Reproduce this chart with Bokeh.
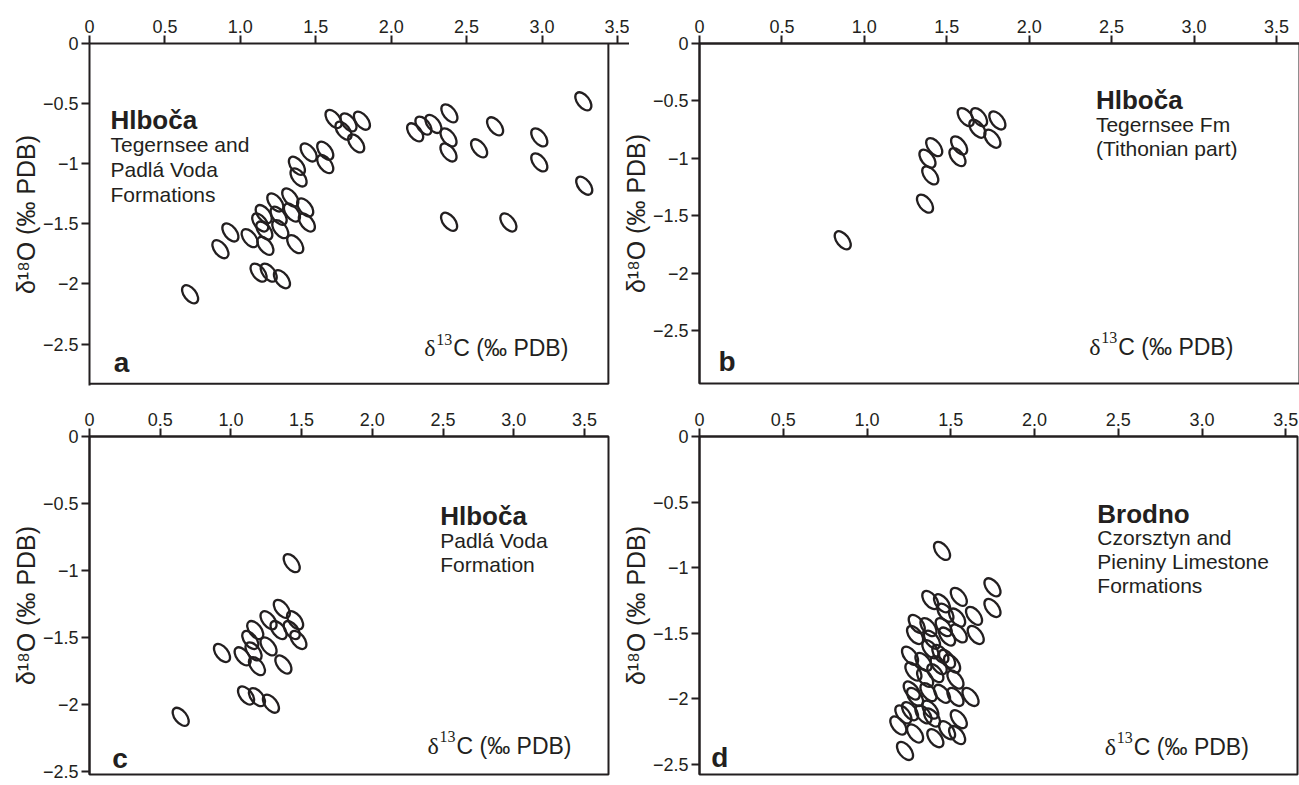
from bokeh.plotting import figure
from bokeh.layouts import column, row
from bokeh.models import FixedTicker, CustomJSTickFormatter, ColumnDataSource
from bokeh.core.properties import value
from bokeh.embed import file_html
from bokeh.resources import INLINE

INK = "#231f20"
SANS = "Liberation Sans"
SERIF = "Liberation Serif"

# ---------------- data (delta13C, delta18O, per mil PDB) ----------------
x_ticks = [0, 0.5, 1.0, 1.5, 2.0, 2.5, 3.0, 3.5]
y_ticks = [0, -0.5, -1.0, -1.5, -2.0, -2.5]

a_c13 = [0.667, 0.868, 0.934, 1.062, 1.121, 1.188, 1.276, 1.166, 1.132, 1.159,
         1.155, 1.232, 1.254, 1.265, 1.331, 1.342, 1.430, 1.441, 1.364, 1.386,
         1.375, 1.453, 1.563, 1.563, 1.618, 1.684, 1.717, 1.806, 1.768, 2.159,
         2.214, 2.280, 2.386, 2.380, 2.380, 2.583, 2.689, 2.982, 2.982, 3.274,
         3.280, 2.384, 2.777]
a_o18 = [-2.086, -1.711, -1.572, -1.619, -1.906, -1.906, -1.961, -1.683, -1.489, -1.556,
         -1.419, -1.322, -1.433, -1.544, -1.281, -1.406, -1.364, -1.489, -1.669, -1.114,
         -1.017, -0.906, -0.892, -1.003, -0.628, -0.725, -0.656, -0.642, -0.831, -0.739,
         -0.683, -0.669, -0.581, -0.781, -0.906, -0.872, -0.689, -0.781, -0.989, -0.481,
         -1.183, -1.483, -1.489]

b_c13 = [0.869, 1.368, 1.400, 1.383, 1.424, 1.565, 1.575, 1.615, 1.696, 1.686, 1.807, 1.777]
b_o18 = [-1.713, -1.394, -1.148, -1.003, -0.902, -0.989, -0.887, -0.641, -0.641, -0.742, -0.670, -0.829]

c_c13 = [0.645, 0.937, 1.083, 1.184, 1.160, 1.137, 1.172, 1.266, 1.266, 1.337,
         1.360, 1.371, 1.430, 1.454, 1.477, 1.430, 1.107, 1.184, 1.283]
c_o18 = [-2.090, -1.614, -1.639, -1.712, -1.602, -1.517, -1.443, -1.565, -1.370, -1.443,
         -1.285, -1.700, -1.443, -1.370, -1.517, -0.944, -1.931, -1.943, -1.992]

d_c13 = [1.448, 1.749, 1.749, 1.548, 1.378, 1.448, 1.468, 1.538, 1.639, 1.649,
         1.297, 1.287, 1.367, 1.458, 1.478, 1.548, 1.388, 1.378, 1.257, 1.337,
         1.438, 1.478, 1.508, 1.428, 1.408, 1.277, 1.347, 1.528, 1.367, 1.267,
         1.287, 1.448, 1.528, 1.618, 1.257, 1.378, 1.337, 1.217, 1.548, 1.187,
         1.287, 1.408, 1.478, 1.538, 1.227, 1.388]
d_o18 = [-0.873, -1.151, -1.309, -1.224, -1.248, -1.273, -1.345, -1.382, -1.369, -1.515,
         -1.431, -1.515, -1.455, -1.455, -1.527, -1.503, -1.551, -1.624, -1.673, -1.721,
         -1.660, -1.697, -1.733, -1.745, -1.806, -1.794, -1.842, -1.855, -1.951, -1.939,
         -1.988, -1.964, -1.988, -1.988, -2.097, -2.085, -2.121, -2.121, -2.158, -2.206,
         -2.267, -2.303, -2.242, -2.279, -2.400, -2.145]

x_label_rest = "C (‰ PDB)"
y_label = "δ¹⁸O (‰ PDB)"


def make_panel(xs, ys, x_end, y_end, fw, fh, mbl, mbr, mbt, mbb, box=None):
    p = figure(x_range=(0, x_end), y_range=(y_end, 0),
               frame_width=fw, frame_height=fh,
               x_axis_location="above", y_axis_location="left",
               output_backend="svg", toolbar_location=None,
               min_border_left=mbl, min_border_right=mbr,
               min_border_top=mbt, min_border_bottom=mbb,
               background_fill_color="white", border_fill_color=None)
    p.grid.visible = False
    if box is None:
        p.outline_line_color = INK
        p.outline_line_width = 2
        p.outline_line_alpha = 1
    else:
        # plot box narrower than the axis line (axis runs on past the box)
        p.outline_line_color = None
        bx, by = box
        p.line(x=[bx, bx, 0], y=[0, by, by], line_color=INK, line_width=2)

    p.xaxis.ticker = FixedTicker(ticks=x_ticks)
    p.yaxis.ticker = FixedTicker(ticks=y_ticks)
    p.xaxis.formatter = CustomJSTickFormatter(code="return tick == 0 ? '0' : tick.toFixed(1);")
    p.yaxis.formatter = CustomJSTickFormatter(
        code="return tick == 0 ? '0' : '\\u2212' + Math.abs(tick).toString();")
    for ax in (p.xaxis[0], p.yaxis[0]):
        ax.axis_line_color = INK
        ax.axis_line_width = 2
        ax.major_tick_line_color = INK
        ax.major_tick_line_width = 2
        ax.major_tick_in = 0
        ax.major_tick_out = 8
        ax.minor_tick_line_color = None
        ax.major_label_text_font = SANS
        ax.major_label_text_font_size = "18px"
        ax.major_label_text_color = INK
        ax.major_label_standoff = 3
    p.yaxis.axis_label = y_label
    p.yaxis.axis_label_text_font = SANS
    p.yaxis.axis_label_text_font_size = "25px"
    p.yaxis.axis_label_text_font_style = "normal"
    p.yaxis.axis_label_text_color = INK
    p.yaxis.axis_label_standoff = 0

    src = ColumnDataSource(data=dict(x=xs, y=ys))
    p.ellipse(x="x", y="y", source=src, width=21, height=12,
              width_units="screen", height_units="screen",
              angle=-0.9, fill_color=None, line_color=INK, line_width=2.3)
    return p


def add_text(p, x, y, lines, dy_px):
    for i, t in enumerate(lines):
        bold = i == 0
        p.text(x=[x], y=[y], text=[t], y_offset=dy_px * i,
               text_font=value(SANS),
               text_font_size="26px" if bold else "21px",
               text_font_style="bold" if bold else "normal",
               text_color=INK, text_baseline="alphabetic", text_align="left")


def add_delta13(p, x, y):
    p.text(x=[x], y=[y], text=["δ"], text_font=value(SERIF), text_font_size="24px",
           text_color=INK, text_baseline="alphabetic", text_align="left")
    p.text(x=[x], y=[y], text=["13"], x_offset=12, y_offset=-9,
           text_font=value(SERIF), text_font_size="16px",
           text_color=INK, text_baseline="alphabetic", text_align="left")
    p.text(x=[x], y=[y], text=[x_label_rest], x_offset=29,
           text_font=value(SANS), text_font_size="23px",
           text_color=INK, text_baseline="alphabetic", text_align="left")


def add_letter(p, x, y, t):
    p.text(x=[x], y=[y], text=[t], text_font=value(SANS), text_font_size="28px",
           text_font_style="bold", text_color=INK, text_baseline="alphabetic",
           text_align="left")


pa = make_panel(a_c13, a_o18, 3.58, -2.845, 540, 342, 89, 0, 43, 16, box=(3.44, -2.83))
add_text(pa, 0.139, -0.633, ["Hlboča", "Tegernsee and", "Padlá Voda", "Formations"], 25)
add_delta13(pa, 2.22, -2.535)
add_letter(pa, 0.16, -2.65, "a")

pb = make_panel(b_c13, b_o18, 3.64, -2.96, 600, 340, 75, 6, 43, 18)
pb.margin = (0, 0, 0, -11)
add_text(pb, 2.405, -0.495, ["Hlboča", "Tegernsee Fm", "(Tithonian part)"], 24)
add_delta13(pb, 2.365, -2.64)
add_letter(pb, 0.115, -2.765, "b")

pc = make_panel(c_c13, c_o18, 3.67, -2.52, 519, 338, 89, 10, 35, 12)
add_text(pc, 2.48, -0.595, ["Hlboča", "Padlá Voda", "Formation"], 24)
add_delta13(pc, 2.39, -2.305)
add_letter(pc, 0.16, -2.40, "c")

pd = make_panel(d_c13, d_o18, 3.57, -2.58, 598, 338, 77, 6, 35, 12)
add_text(pd, 2.375, -0.59, ["Brodno", "Czorsztyn and", "Pieniny Limestone", "Formations"], 24)
add_delta13(pd, 2.42, -2.37)
add_letter(pd, 0.07, -2.45, "d")

layout = column(row(pa, pb), row(pc, pd))

with open("out.html", "w") as f:
    f.write(file_html(layout, INLINE))
